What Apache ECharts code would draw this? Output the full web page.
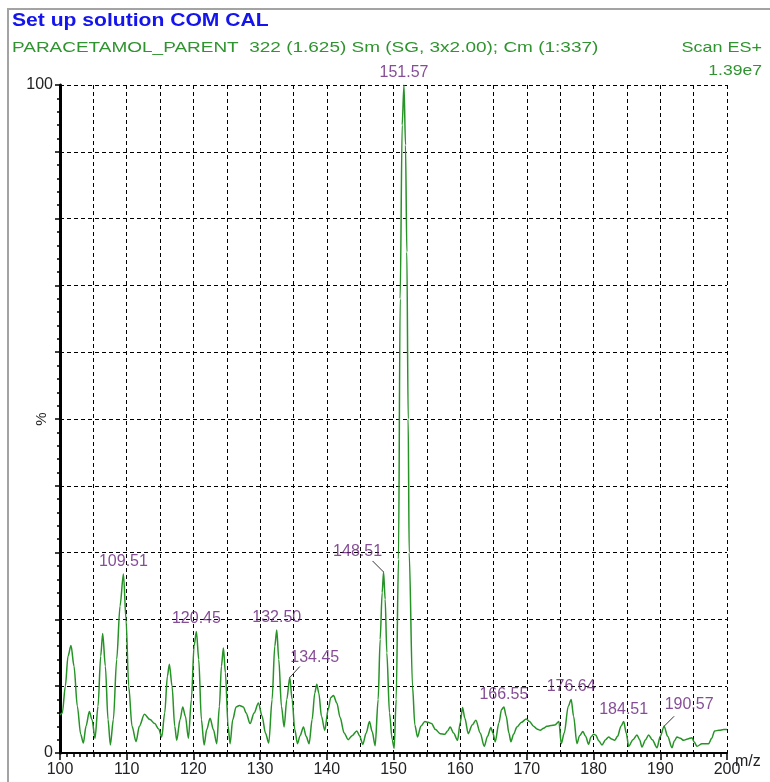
<!DOCTYPE html>
<html>
<head>
<meta charset="utf-8">
<script src="https://cdn.jsdelivr.net/npm/echarts@6/dist/echarts.min.js"></script>
<style>
  html, body { margin: 0; padding: 0; background: #ffffff; }
  #chart { width: 770px; height: 782px; }
</style>
</head>
<body>
<div id="chart"></div>
<script>
// Smoothed ES+ scan of PARACETAMOL_PARENT, relative intensity (%) against m/z
const massToCharge = [
  100.0, 100.35, 100.8, 101.2, 101.65, 102.1, 102.6, 103.1, 103.5, 103.9, 104.4, 104.8, 105.25, 105.7, 106.1, 106.4, 106.8, 107.2, 107.55,
  108.0, 108.5, 109.0, 109.51, 109.9, 110.3, 110.8, 111.4, 111.9, 112.65, 113.5, 114.2, 114.8, 115.25, 115.7, 116.1, 116.4, 116.8, 117.2,
  117.5, 118.0, 118.4, 118.8, 119.25, 119.7, 120.1, 120.45, 120.8, 121.2, 121.6, 122.0, 122.5, 123.0, 123.5, 123.9, 124.2, 124.5, 124.8,
  125.2, 125.5, 125.9, 126.4, 126.9, 127.5, 127.9, 128.5, 129.1, 129.75, 130.3, 130.8, 131.3, 131.8, 132.2, 132.5, 132.8, 133.2, 133.6,
  134.0, 134.45, 134.8, 135.2, 135.6, 136.0, 136.5, 136.9, 137.35, 137.8, 138.2, 138.5, 138.8, 139.2, 139.7, 140.2, 140.6, 141.0, 141.5,
  142.0, 142.6, 143.2, 143.8, 144.5, 144.9, 145.4, 145.9, 146.4, 146.8, 147.25, 147.7, 148.0, 148.3, 148.51, 148.75, 149.0, 149.4, 149.8,
  150.1, 150.4, 150.75, 151.0, 151.3, 151.57, 151.8, 152.0, 152.2, 152.35, 152.85, 153.2, 153.6, 154.1, 154.7, 155.2, 155.7, 156.3, 157.0,
  157.7, 158.1, 158.5, 159.0, 159.6, 160.0, 160.35, 160.7, 161.2, 161.8, 162.35, 163.0, 163.6, 164.1, 164.6, 164.9, 165.25, 165.8, 166.2,
  166.55, 166.9, 167.3, 167.6, 168.0, 168.5, 169.2, 169.9, 170.4, 171.0, 171.5, 172.0, 172.5, 173.0, 173.6, 174.2, 174.8, 175.15, 175.6,
  176.2, 176.64, 177.0, 177.5, 177.9, 178.4, 178.8, 179.25, 179.6, 180.0, 180.3, 180.8, 181.25, 181.8, 182.25, 182.7, 183.15, 183.6, 184.1,
  184.51, 184.9, 185.25, 185.9, 186.5, 186.9, 187.25, 187.8, 188.25, 188.8, 189.5, 190.0, 190.57, 191.1, 191.75, 192.1, 192.5, 193.0,
  193.5, 194.1, 194.75, 195.1, 195.5, 196.25, 197.25, 197.7, 198.15, 198.8, 199.5, 200.0
];
const relIntensity = [
  5.7, 6.0, 10, 14.5, 16.1, 13, 7, 2.8, 1.5, 4, 6.2, 5, 2.2, 7, 14.5, 17.9, 13, 5, 1.2,
  5, 14, 22, 26.8, 20, 10, 4, 1.7, 4, 5.8, 5.0, 4.4, 3.6, 2.4, 6, 11.5, 13.3, 10, 4,
  1.9, 5, 6.9, 5.5, 2.2, 8, 16, 18.2, 14, 5, 1.2, 3.5, 5.2, 3.5, 1.4, 7, 13, 15.7, 12,
  4, 1.4, 5, 6.9, 7.1, 6.9, 6.0, 4.4, 6, 7.5, 5.5, 3, 1.5, 8, 16, 18.4, 14, 7, 3.9,
  8, 11.3, 8, 3.5, 1.4, 2.6, 3.9, 2.5, 1.4, 5, 9, 10.3, 9, 5.5, 3.4, 6.5, 8.3, 8.6, 7.5,
  5.3, 3, 2.0, 2.6, 3.3, 2.6, 1.3, 3, 4.7, 3.2, 1.1, 8, 17, 24, 27.1, 23, 15, 6, 2,
  0.7, 8, 29, 68, 94, 100, 91, 75, 50, 30, 10, 4.2, 2.4, 4, 4.7, 4.6, 4.4, 3.5, 2.9,
  2.8, 3.3, 3.9, 3, 1.9, 4.5, 6.8, 5.2, 2.9, 4.2, 4.9, 3, 1.0, 2.5, 3.8, 3, 1.7, 4.5, 6.5,
  6.9, 5.5, 3, 1.7, 2.8, 3.9, 4.6, 5.1, 4.7, 4.0, 3.6, 3.4, 3.7, 4.0, 4.1, 4.2, 4.7, 1.4, 3,
  7, 8.0, 5.5, 1.4, 2.6, 3.2, 2.5, 1.3, 2.4, 2.8, 2.7, 1.8, 1.2, 2.0, 2.4, 2.1, 1.9, 2.5, 4.0,
  4.7, 3, 1.0, 2.0, 2.7, 2, 0.9, 2, 2.7, 2, 0.8, 2.5, 4.0, 2.5, 0.8, 1.8, 2.4, 2.2,
  1.9, 2.1, 2.3, 1.6, 1.0, 1.4, 1.4, 2.2, 3.3, 3.4, 3.5, 3.5
];

// Annotated peaks (m/z, relative intensity)
const peakMz = [109.51, 120.45, 132.50, 134.45, 148.51, 151.57, 166.55, 176.64, 184.51, 190.57];
const peakIntensity = [26.8, 18.2, 18.4, 11.3, 27.1, 100, 6.9, 8.0, 4.7, 4.0];

// Axis ticks
const xTickValues = [100, 110, 120, 130, 140, 150, 160, 170, 180, 190, 200];
const yTickLabels = [0, 100];

// Peak labels set beside their peak: label offset and leader-line end (px)
const sideLabels = {
  3: { offset: [25, -7], leader: [10, -11] },
  4: { offset: [-26, -8], leader: [-11, -11] },
  9: { offset: [25, -9], leader: [10, -10] }
};

const FONT = "'Liberation Sans', Arial, sans-serif";
const LINE_GREEN = '#259325';
const TEXT_GREEN = '#2f942f';
const PEAK_PURPLE = '#66207a';

const spectrum = massToCharge.map((mz, i) => [mz, relIntensity[i]]);
const peaks = peakMz.map((mz, i) => {
  const item = { value: [mz, peakIntensity[i]], name: mz.toFixed(2) };
  if (sideLabels[i]) item.label = { offset: sideLabels[i].offset };
  return item;
});
const leaderPeaks = Object.keys(sideLabels).map(k => {
  const i = Number(k);
  return [peakMz[i], peakIntensity[i], sideLabels[i].leader[0], sideLabels[i].leader[1]];
});

const chart = echarts.init(document.getElementById('chart'), null, { renderer: 'canvas' });

// Header text, stretched horizontally about its anchor point
function headerText(text, x, y, size, weight, color, sx, align) {
  return {
    type: 'text', silent: true, x: x, y: y, scaleX: sx, scaleY: 1,
    originX: 0, originY: 0,
    style: {
      x: 0, y: 0,
      text: text, fill: color, font: weight + ' ' + size + 'px ' + FONT,
      align: align || 'left', verticalAlign: 'middle'
    }
  };
}

chart.setOption({
  animation: false,
  backgroundColor: '#ffffff',
  textStyle: { fontFamily: FONT },
  graphic: [
    { type: 'polyline', silent: true,
      shape: { points: [[8, 782], [8, 9], [770, 9]] },
      style: { stroke: '#a3a3a3', lineWidth: 2, fill: null } },
    headerText('Set up solution COM CAL', 12, 21, 19, 'bold', '#1414ee', 1.11),
    headerText('PARACETAMOL_PARENT  322 (1.625) Sm (SG, 3x2.00); Cm (1:337)', 12, 48, 15, 'normal', TEXT_GREEN, 1.265),
    headerText('Scan ES+', 762, 48, 15, 'normal', TEXT_GREEN, 1.2, 'right'),
    headerText('1.39e7', 762, 71, 15, 'normal', TEXT_GREEN, 1.17, 'right')
  ],
  grid: { left: 60, right: 43, top: 85, bottom: 29, containLabel: false, outerBoundsMode: 'none' },
  xAxis: [
    {
      type: 'value', min: 100, max: 200, interval: 10,
      name: 'm/z', nameLocation: 'end', nameGap: 8, nameMoveOverlap: false,
      nameTextStyle: { fontFamily: FONT, fontSize: 16, color: '#222', verticalAlign: 'top', align: 'left', padding: [1, 0, 0, 0] },
      axisLine: { show: true, onZero: false, lineStyle: { color: '#000', width: 2 } },
      axisTick: { show: true, length: 7, lineStyle: { color: '#000', width: 1.5 } },
      minorTick: { show: true, splitNumber: 10, length: 4, lineStyle: { color: '#000', width: 1.5 } },
      axisLabel: {
        fontFamily: FONT, fontSize: 16, color: '#222', margin: 9,
        formatter: v => (xTickValues.includes(v) ? String(v) : '')
      },
      splitLine: { show: false }
    },
    {
      // carries the dashed vertical grid every 5 m/z
      type: 'value', min: 100, max: 200, interval: 5, position: 'bottom',
      axisLine: { show: false }, axisTick: { show: false }, axisLabel: { show: false },
      splitLine: { show: true, lineStyle: { color: '#000', width: 1, type: [4, 3] } }
    }
  ],
  yAxis: {
    type: 'value', min: 0, max: 100, interval: 10,
    name: '%', nameLocation: 'middle', nameGap: 11, nameRotate: 90, nameMoveOverlap: false,
    nameTextStyle: { fontFamily: FONT, fontSize: 15, color: '#222' },
    axisLine: { show: true, lineStyle: { color: '#000', width: 3 } },
    axisTick: { show: true, length: 5, lineStyle: { color: '#000', width: 1.5 } },
    minorTick: { show: true, splitNumber: 5, length: 3, lineStyle: { color: '#000', width: 1.5 } },
    axisLabel: {
      fontFamily: FONT, fontSize: 16, color: '#222', margin: 7,
      formatter: v => (yTickLabels.includes(v) ? String(v) : '')
    },
    splitLine: { show: true, lineStyle: { color: '#000', width: 1, type: [4, 3] } }
  },
  series: [
    {
      name: 'spectrum', type: 'line', xAxisIndex: 0,
      data: spectrum, showSymbol: false, symbol: 'none',
      smooth: 0.3, smoothMonotone: 'x',
      lineStyle: { color: LINE_GREEN, width: 1.5 },
      z: 3
    },
    {
      name: 'leaders', type: 'custom', xAxisIndex: 0,
      data: leaderPeaks, silent: true,
      renderItem: (params, api) => {
        const p = api.coord([api.value(0), api.value(1)]);
        return {
          type: 'line',
          shape: { x1: p[0], y1: p[1], x2: p[0] + api.value(2), y2: p[1] + api.value(3) },
          style: { stroke: '#333', lineWidth: 1 }
        };
      },
      z: 4
    },
    {
      name: 'peaks', type: 'scatter', xAxisIndex: 0,
      data: peaks, symbolSize: 1,
      itemStyle: { color: 'rgba(0,0,0,0)' },
      label: {
        show: true, position: 'top', distance: 4,
        formatter: p => p.name,
        fontFamily: FONT, fontSize: 16, color: PEAK_PURPLE
      },
      z: 5
    }
  ]
});
</script>
</body>
</html>
